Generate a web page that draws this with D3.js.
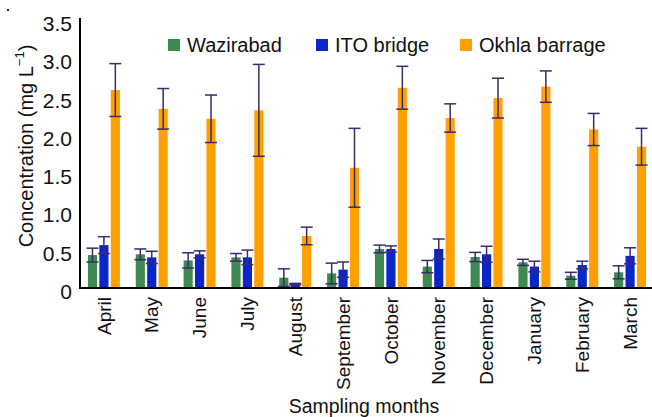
<!DOCTYPE html>
<html><head><meta charset="utf-8">
<script src="https://cdn.jsdelivr.net/npm/d3@7"></script>
<style>body{margin:0;background:#fff}svg{display:block;font-family:"Liberation Sans",Arial,sans-serif}</style>
</head><body>
<svg id="c" width="652" height="417"></svg>
<script>
const months = ["April","May","June","July","August","September","October","November","December","January","February","March"];
const series = ["Wazirabad","ITO bridge","Okhla barrage"];
const wazirabad = [0.43,0.44,0.36,0.40,0.135,0.19,0.51,0.28,0.405,0.335,0.16,0.205];
const wazirabadErr = [0.09,0.07,0.10,0.05,0.115,0.135,0.05,0.08,0.06,0.04,0.045,0.085];
const ito = [0.56,0.40,0.44,0.40,0.05,0.24,0.51,0.51,0.44,0.28,0.30,0.42];
const itoErr = [0.11,0.08,0.045,0.095,0.01,0.10,0.04,0.13,0.105,0.07,0.05,0.105];
const okhla = [2.585,2.34,2.21,2.32,0.68,1.57,2.615,2.22,2.48,2.63,2.07,1.845];
const okhlaErr = [0.345,0.265,0.31,0.60,0.115,0.515,0.28,0.185,0.26,0.205,0.21,0.24];
const yTicks = [0,0.5,1.0,1.5,2.0,2.5,3.0,3.5];
const colors = ["#3f8a4e","#0a26c8","#ffa000"];

const values = [wazirabad, ito, okhla];
const errs = [wazirabadErr, itoErr, okhlaErr];

const svg = d3.select("#c");
const x = d3.scaleBand().domain(months).range([80, 654]).paddingInner(0).paddingOuter(0);
const xs = d3.scaleBand().domain(series).range([-16, 16]).paddingInner(0.2);
const y = d3.scaleLinear().domain([0, 3.5]).range([288, 20]);

// small dot top-left
svg.append("rect").attr("x",7).attr("y",9).attr("width",2).attr("height",2).attr("fill","#222");

// bars
series.forEach((s, si) => {
  const g = svg.append("g");
  months.forEach((m, mi) => {
    const cx = x(m) + x.bandwidth()/2 + xs(s);
    g.append("rect").attr("x", cx).attr("width", xs.bandwidth())
      .attr("y", y(values[si][mi])).attr("height", y(0) - y(values[si][mi]))
      .attr("fill", colors[si]);
  });
});
// error bars
series.forEach((s, si) => {
  const g = svg.append("g").attr("stroke","#3b2a70").attr("stroke-width",1.5).attr("fill","none");
  months.forEach((m, mi) => {
    const cx = x(m) + x.bandwidth()/2 + xs(s) + xs.bandwidth()/2;
    const v = values[si][mi], e = errs[si][mi];
    const hi = y(v + e), lo = y(Math.max(0, v - e));
    g.append("line").attr("x1",cx).attr("x2",cx).attr("y1",hi).attr("y2",lo);
    g.append("line").attr("x1",cx-6).attr("x2",cx+6).attr("y1",hi).attr("y2",hi);
    g.append("line").attr("x1",cx-6).attr("x2",cx+6).attr("y1",lo).attr("y2",lo);
  });
});

// y axis
const ya = svg.append("g").attr("transform","translate(80,0)")
  .call(d3.axisLeft(y).tickValues(yTicks).tickSize(0).tickPadding(8)
    .tickFormat(d => d === 0 ? "0" : d3.format(".1f")(d)));
ya.select(".domain").attr("stroke","#000").attr("stroke-width",2).attr("d","M0,18V289");
ya.selectAll("text").attr("font-size",21).attr("fill","#111").attr("dy","0.5em").attr("font-family","Liberation Sans, Arial, sans-serif");

// x axis
const xa = svg.append("g").attr("transform","translate(0,288)")
  .call(d3.axisBottom(x).tickSize(0).tickPadding(8));
xa.select(".domain").attr("stroke","#000").attr("stroke-width",2).attr("d","M79,0H652");
xa.selectAll("text").attr("font-size",19).attr("fill","#111").attr("font-family","Liberation Sans, Arial, sans-serif")
  .attr("text-anchor","end").attr("transform","rotate(-90)").attr("x",-9).attr("y",0).attr("dy","0.35em");

// axis titles
svg.append("text").attr("x",364).attr("y",413).attr("text-anchor","middle")
  .attr("font-size",19.5).attr("fill","#111").text("Sampling months");
const yt = svg.append("text").attr("transform","translate(33,146) rotate(-90)").attr("text-anchor","middle")
  .attr("font-size",20).attr("fill","#111");
yt.append("tspan").text("Concentration (mg L");
yt.append("tspan").attr("font-size",13).attr("dy","-9").text("−1");
yt.append("tspan").attr("dy","9").text(")");

// legend
const legX = [168, 316, 460];
series.forEach((s, si) => {
  svg.append("rect").attr("x", legX[si]).attr("y", 39).attr("width", 12).attr("height", 12).attr("fill", colors[si]);
  svg.append("text").attr("x", legX[si] + 19).attr("y", 52).attr("font-size", 20).attr("fill","#111").text(s);
});
</script>
</body></html>
